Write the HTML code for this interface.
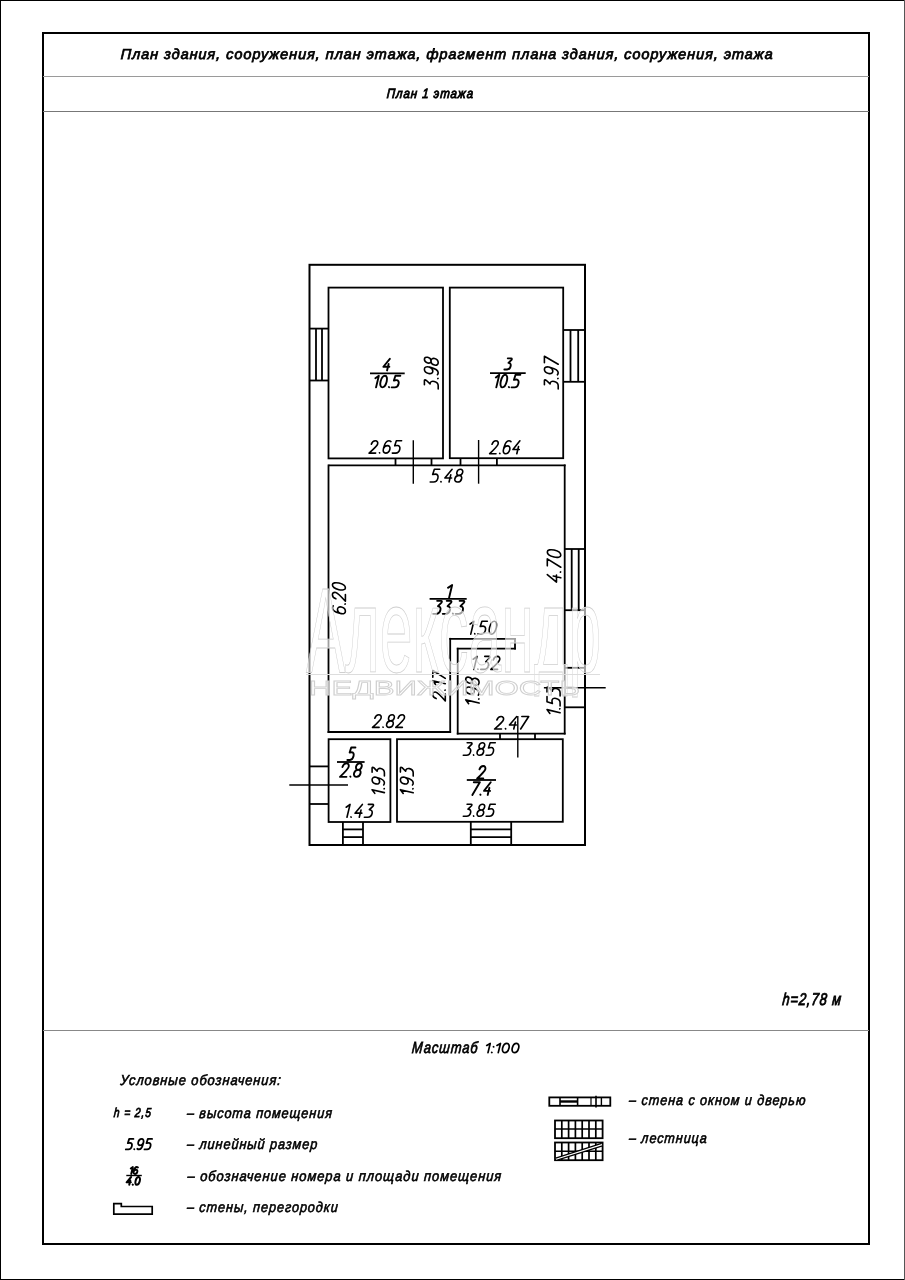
<!DOCTYPE html>
<html><head><meta charset="utf-8"><style>
html,body{margin:0;padding:0;background:#fff;width:905px;height:1280px;overflow:hidden;}
svg{display:block;font-family:"Liberation Sans", sans-serif;will-change:transform;}
</style></head><body>
<svg width="905" height="1280" viewBox="0 0 905 1280">
<rect x="0" y="0" width="905" height="1280" fill="#fff"/>
<rect x="0.5" y="0.5" width="904" height="1279" fill="none" stroke="#000" stroke-width="1"/>
<line x1="904.5" y1="0" x2="904.5" y2="1280" stroke="#555" stroke-width="1"/>
<rect x="43" y="33" width="826" height="1211" fill="none" stroke="#000" stroke-width="2"/>
<line x1="43" y1="76.5" x2="869" y2="76.5" stroke="#9a9a9a" stroke-width="1"/>
<line x1="43" y1="111.5" x2="869" y2="111.5" stroke="#777" stroke-width="1"/>
<line x1="43" y1="1030.5" x2="869" y2="1030.5" stroke="#888" stroke-width="1"/>
<rect x="309.5" y="264.8" width="275.5" height="580.2" fill="none" stroke="#000" stroke-width="2.0"/>
<rect x="328.5" y="287.6" width="114.5" height="170.8" fill="none" stroke="#000" stroke-width="1.8"/>
<rect x="449.8" y="287.6" width="113.4" height="170.6" fill="none" stroke="#000" stroke-width="1.8"/>
<line x1="328.5" y1="465.3" x2="565.6" y2="465.3" stroke="#000" stroke-width="1.8"/>
<line x1="328.5" y1="464.4" x2="328.5" y2="732.9" stroke="#000" stroke-width="1.8"/>
<line x1="564.7" y1="464.4" x2="564.7" y2="734.5" stroke="#000" stroke-width="1.8"/>
<line x1="327.6" y1="732.0" x2="451.1" y2="732.0" stroke="#000" stroke-width="1.8"/>
<line x1="450.2" y1="637.9" x2="450.2" y2="732.9" stroke="#000" stroke-width="1.8"/>
<line x1="449.3" y1="638.8" x2="515.9" y2="638.8" stroke="#000" stroke-width="1.8"/>
<line x1="515.0" y1="637.9" x2="515.0" y2="649.6" stroke="#000" stroke-width="1.8"/>
<line x1="456.8" y1="648.7" x2="515.9" y2="648.7" stroke="#000" stroke-width="1.8"/>
<line x1="457.7" y1="647.8" x2="457.7" y2="734.5" stroke="#000" stroke-width="1.8"/>
<line x1="456.8" y1="733.6" x2="565.6" y2="733.6" stroke="#000" stroke-width="1.8"/>
<rect x="328.6" y="739.2" width="61.8" height="82.8" fill="none" stroke="#000" stroke-width="1.8"/>
<rect x="397.0" y="739.2" width="165.8" height="82.6" fill="none" stroke="#000" stroke-width="1.8"/>
<line x1="309.5" y1="328.6" x2="328.5" y2="328.6" stroke="#000" stroke-width="1.8"/>
<line x1="309.5" y1="380.5" x2="328.5" y2="380.5" stroke="#000" stroke-width="1.8"/>
<line x1="316.0" y1="328.6" x2="316.0" y2="380.5" stroke="#000" stroke-width="1.8"/>
<line x1="322.0" y1="328.6" x2="322.0" y2="380.5" stroke="#000" stroke-width="1.8"/>
<line x1="563.2" y1="330.0" x2="585.0" y2="330.0" stroke="#000" stroke-width="1.8"/>
<line x1="563.2" y1="381.8" x2="585.0" y2="381.8" stroke="#000" stroke-width="1.8"/>
<line x1="570.5" y1="330.0" x2="570.5" y2="381.8" stroke="#000" stroke-width="1.8"/>
<line x1="578.2" y1="330.0" x2="578.2" y2="381.8" stroke="#000" stroke-width="1.8"/>
<line x1="564.7" y1="549.0" x2="585.0" y2="549.0" stroke="#000" stroke-width="1.8"/>
<line x1="564.7" y1="610.2" x2="585.0" y2="610.2" stroke="#000" stroke-width="1.8"/>
<line x1="571.7" y1="549.0" x2="571.7" y2="610.2" stroke="#000" stroke-width="1.8"/>
<line x1="578.7" y1="549.0" x2="578.7" y2="610.2" stroke="#000" stroke-width="1.8"/>
<line x1="564.7" y1="667.8" x2="585" y2="667.8" stroke="#000" stroke-width="1.8"/>
<line x1="564.7" y1="707.3" x2="585" y2="707.3" stroke="#000" stroke-width="1.8"/>
<line x1="543.9" y1="687.7" x2="605.7" y2="687.7" stroke="#000" stroke-width="1.6"/>
<line x1="309.5" y1="766.4" x2="328.6" y2="766.4" stroke="#000" stroke-width="1.8"/>
<line x1="309.5" y1="804.0" x2="328.6" y2="804.0" stroke="#000" stroke-width="1.8"/>
<line x1="289.3" y1="785.0" x2="348.0" y2="785.0" stroke="#000" stroke-width="1.6"/>
<line x1="395.5" y1="458.4" x2="395.5" y2="465.3" stroke="#000" stroke-width="1.8"/>
<line x1="431.5" y1="458.4" x2="431.5" y2="465.3" stroke="#000" stroke-width="1.8"/>
<line x1="460.5" y1="458.4" x2="460.5" y2="465.3" stroke="#000" stroke-width="1.8"/>
<line x1="496.9" y1="458.4" x2="496.9" y2="465.3" stroke="#000" stroke-width="1.8"/>
<line x1="500.0" y1="733.6" x2="500.0" y2="739.2" stroke="#000" stroke-width="1.8"/>
<line x1="535.0" y1="733.6" x2="535.0" y2="739.2" stroke="#000" stroke-width="1.8"/>
<line x1="413.3" y1="440.3" x2="413.3" y2="483.7" stroke="#000" stroke-width="1.4"/>
<line x1="478.6" y1="440.0" x2="478.6" y2="483.7" stroke="#000" stroke-width="1.4"/>
<line x1="517.8" y1="716.0" x2="517.8" y2="757.4" stroke="#000" stroke-width="1.4"/>
<line x1="342.9" y1="822.0" x2="342.9" y2="845" stroke="#000" stroke-width="1.8"/>
<line x1="363.0" y1="822.0" x2="363.0" y2="845" stroke="#000" stroke-width="1.8"/>
<line x1="342.9" y1="829.4" x2="363.0" y2="829.4" stroke="#000" stroke-width="1.8"/>
<line x1="342.9" y1="837.1" x2="363.0" y2="837.1" stroke="#000" stroke-width="1.8"/>
<line x1="470.8" y1="821.8" x2="470.8" y2="845" stroke="#000" stroke-width="1.8"/>
<line x1="511.2" y1="821.8" x2="511.2" y2="845" stroke="#000" stroke-width="1.8"/>
<line x1="470.8" y1="829.4" x2="511.2" y2="829.4" stroke="#000" stroke-width="1.8"/>
<line x1="470.8" y1="837.1" x2="511.2" y2="837.1" stroke="#000" stroke-width="1.8"/>
<line x1="370.0" y1="373.3" x2="404.7" y2="373.3" stroke="#000" stroke-width="1.8"/>
<line x1="490.0" y1="373.1" x2="525.7" y2="373.1" stroke="#000" stroke-width="1.8"/>
<line x1="429.6" y1="598.9" x2="466.7" y2="598.9" stroke="#000" stroke-width="1.8"/>
<line x1="337.0" y1="762.0" x2="364.6" y2="762.0" stroke="#000" stroke-width="1.8"/>
<line x1="466.8" y1="780.0" x2="496.0" y2="780.0" stroke="#000" stroke-width="1.8"/>
<line x1="126.3" y1="1175.5" x2="141.8" y2="1175.5" stroke="#000" stroke-width="1.4"/>
<path d="M113.8 1203.6 H121.3 V1206.5 H152.2 V1214.2 H113.8 Z" fill="none" stroke="#000" stroke-width="1.7"/>
<rect x="549.3" y="1097.4" width="61.0" height="8.4" fill="none" stroke="#000" stroke-width="1.8"/>
<line x1="560.0" y1="1097.4" x2="560.0" y2="1105.8" stroke="#000" stroke-width="1.6"/>
<line x1="577.6" y1="1097.4" x2="577.6" y2="1105.8" stroke="#000" stroke-width="1.6"/>
<line x1="560.0" y1="1101.5" x2="577.6" y2="1101.5" stroke="#000" stroke-width="2.4"/>
<line x1="591.0" y1="1097.4" x2="591.0" y2="1105.8" stroke="#000" stroke-width="1.2"/>
<line x1="596.0" y1="1095.7" x2="596.0" y2="1107.4" stroke="#000" stroke-width="1.6"/>
<line x1="601.4" y1="1097.4" x2="601.4" y2="1105.8" stroke="#000" stroke-width="1.4"/>
<rect x="555.0" y="1120.5" width="47.6" height="17.7" fill="none" stroke="#000" stroke-width="1.8"/>
<line x1="555.0" y1="1129.0" x2="602.6" y2="1129.0" stroke="#000" stroke-width="1.6"/>
<line x1="561.8" y1="1120.5" x2="561.8" y2="1138.2" stroke="#000" stroke-width="1.7"/>
<line x1="568.6" y1="1120.5" x2="568.6" y2="1138.2" stroke="#000" stroke-width="1.7"/>
<line x1="575.4" y1="1120.5" x2="575.4" y2="1138.2" stroke="#000" stroke-width="1.7"/>
<line x1="582.2" y1="1120.5" x2="582.2" y2="1138.2" stroke="#000" stroke-width="1.7"/>
<line x1="589.0" y1="1120.5" x2="589.0" y2="1138.2" stroke="#000" stroke-width="1.7"/>
<line x1="595.8" y1="1120.5" x2="595.8" y2="1138.2" stroke="#000" stroke-width="1.7"/>
<rect x="555.0" y="1142.5" width="47.6" height="17.7" fill="none" stroke="#000" stroke-width="1.8"/>
<line x1="555.0" y1="1151.2" x2="602.6" y2="1151.2" stroke="#000" stroke-width="1.6"/>
<line x1="561.8" y1="1142.5" x2="561.8" y2="1160.2" stroke="#000" stroke-width="1.7"/>
<line x1="568.6" y1="1142.5" x2="568.6" y2="1160.2" stroke="#000" stroke-width="1.7"/>
<line x1="575.4" y1="1142.5" x2="575.4" y2="1160.2" stroke="#000" stroke-width="1.7"/>
<line x1="582.2" y1="1142.5" x2="582.2" y2="1160.2" stroke="#000" stroke-width="1.7"/>
<line x1="589.0" y1="1142.5" x2="589.0" y2="1160.2" stroke="#000" stroke-width="1.7"/>
<line x1="595.8" y1="1142.5" x2="595.8" y2="1160.2" stroke="#000" stroke-width="1.7"/>
<line x1="556" y1="1159.2" x2="602" y2="1144.6" stroke="#000" stroke-width="3.8"/>
<line x1="556" y1="1159.2" x2="602" y2="1144.6" stroke="#fff" stroke-width="1.2"/>
<g font-family="Liberation Sans, sans-serif" fill="#000" stroke="#000" stroke-width="0.6"><text transform="translate(120.5 59.3) skewX(-2.10) scale(1.0000 1)" x="0" y="0" font-size="14.5" font-weight="normal" font-style="italic" textLength="652.1" lengthAdjust="spacing" stroke="#000" stroke-width="0.75">План здания, сооружения, план этажа, фрагмент плана здания, сооружения, этажа</text>
<text transform="translate(386.6 97.9) skewX(-3.88) scale(0.8537 1)" x="0" y="0" font-size="13.5" font-weight="normal" font-style="italic" textLength="100.97" lengthAdjust="spacing" stroke="#000" stroke-width="0.9">План 1 этажа</text>
<text transform="translate(781.9 1005.2) skewX(-5.00) scale(0.7611 1)" x="0" y="0" font-size="17" font-weight="normal" font-style="italic" textLength="77.12" lengthAdjust="spacing" stroke="#000" stroke-width="0.9">h=2,78 м</text>
<text transform="translate(411.6 1053.3) skewX(-4.45) scale(0.8069 1)" x="0" y="0" font-size="16" font-weight="normal" font-style="italic" textLength="81.42" lengthAdjust="spacing" stroke="#000" stroke-width="0.75">Масштаб</text>
<text transform="translate(119.9 1084.9) skewX(-3.42) scale(0.8915 1)" x="0" y="0" font-size="14.5" font-weight="normal" font-style="italic" textLength="180.26" lengthAdjust="spacing">Условные обозначения:</text>
<text transform="translate(113.6 1117.0) skewX(-4.65) scale(0.7902 1)" x="0" y="0" font-size="13" font-weight="normal" font-style="italic" textLength="46.95" lengthAdjust="spacing" stroke="#000" stroke-width="0.8">h = 2,5</text>
<text transform="translate(186.7 1118.2) skewX(-3.60) scale(0.8770 1)" x="0" y="0" font-size="14.5" font-weight="normal" font-style="italic" textLength="165.34" lengthAdjust="spacing">– высота помещения</text>
<text transform="translate(186.7 1148.8) skewX(-3.56) scale(0.8805 1)" x="0" y="0" font-size="14.5" font-weight="normal" font-style="italic" textLength="147.98" lengthAdjust="spacing">– линейный размер</text>
<text transform="translate(187.3 1181.2) skewX(-3.38) scale(0.8954 1)" x="0" y="0" font-size="14.5" font-weight="normal" font-style="italic" textLength="350.36" lengthAdjust="spacing">– обозначение номера и площади помещения</text>
<text transform="translate(186.7 1211.8) skewX(-3.60) scale(0.8769 1)" x="0" y="0" font-size="14.5" font-weight="normal" font-style="italic" textLength="171.96" lengthAdjust="spacing">– стены, перегородки</text>
<text transform="translate(628.8 1104.9) skewX(-3.61) scale(0.8759 1)" x="0" y="0" font-size="14.5" font-weight="normal" font-style="italic" textLength="201.4" lengthAdjust="spacing">– стена с окном и дверью</text>
<text transform="translate(628.8 1142.9) skewX(-3.68) scale(0.8706 1)" x="0" y="0" font-size="14.5" font-weight="normal" font-style="italic" textLength="89.36" lengthAdjust="spacing">– лестница</text></g>
<g><path d="M3.77,-10.00 L0.00,-3.20 L4.92,-3.20 M3.77,-5.60 L3.77,0.00" transform="translate(382.40 370.45) translate(0.059 0) skewX(-13.5) scale(1.2212 1.1600)" fill="none" stroke="#000" stroke-width="1.9" stroke-linecap="round" stroke-linejoin="round" vector-effect="non-scaling-stroke"/>
<path d="M0.33,-7.80 L2.62,-10.00 L2.62,0.00 M7.58,-10.00 C9.06,-10.00 10.04,-7.60 10.04,-5.00 C10.04,-2.40 9.06,0.00 7.58,0.00 C6.11,0.00 5.12,-2.40 5.12,-5.00 C5.12,-7.60 6.11,-10.00 7.58,-10.00 Z M12.84,-0.30 L13.04,-0.10 M19.85,-10.00 L15.91,-10.00 L15.59,-5.90 C16.24,-6.10 16.90,-6.20 17.55,-6.20 C19.03,-6.20 20.01,-4.90 20.01,-3.10 C20.01,-1.20 19.03,0.00 17.55,0.00 L15.09,0.00" transform="translate(374.40 387.35) translate(-1.632 0) skewX(-13.5) scale(1.2492 1.1600)" fill="none" stroke="#000" stroke-width="1.9" stroke-linecap="round" stroke-linejoin="round" vector-effect="non-scaling-stroke"/>
<path d="M0.66,-10.00 L3.77,-10.00 C4.43,-10.00 4.67,-9.30 4.35,-8.70 L2.30,-5.90 C4.02,-5.90 4.92,-4.50 4.92,-2.90 C4.92,-1.10 3.94,0.00 2.46,0.00 L0.00,0.00 M7.72,-0.30 L7.92,-0.10 M10.54,-0.60 C11.04,-0.20 11.61,0.00 12.27,0.00 C13.91,0.00 14.89,-2.40 14.89,-5.60 L14.89,-6.80 C14.89,-8.70 13.82,-10.00 12.43,-10.00 C11.04,-10.00 9.97,-8.70 9.97,-6.90 C9.97,-5.10 11.04,-3.90 12.43,-3.90 C13.66,-3.90 14.64,-4.80 14.89,-6.20 M19.85,-5.20 C18.62,-5.20 17.72,-6.20 17.72,-7.60 C17.72,-9.00 18.62,-10.00 19.85,-10.00 C21.08,-10.00 21.98,-9.00 21.98,-7.60 C21.98,-6.20 21.08,-5.20 19.85,-5.20 C18.46,-5.20 17.39,-4.10 17.39,-2.60 C17.39,-1.10 18.46,0.00 19.85,0.00 C21.24,0.00 22.31,-1.10 22.31,-2.60 C22.31,-4.10 21.24,-5.20 19.85,-5.20 Z" transform="translate(438.20 389.70) rotate(-90) translate(0.800 0) skewX(-13.5) scale(1.3219 1.3800)" fill="none" stroke="#000" stroke-width="1.6" stroke-linecap="round" stroke-linejoin="round" vector-effect="non-scaling-stroke"/>
<path d="M0.08,-7.30 C0.25,-9.00 1.23,-10.00 2.46,-10.00 C3.85,-10.00 4.76,-8.90 4.76,-7.40 C4.76,-6.00 4.10,-5.00 0.00,0.00 L4.92,0.00 M7.72,-0.30 L7.92,-0.10 M14.32,-9.40 C13.82,-9.80 13.25,-10.00 12.59,-10.00 C10.95,-10.00 9.97,-7.60 9.97,-4.40 L9.97,-3.20 C9.97,-1.30 11.04,0.00 12.43,0.00 C13.82,0.00 14.89,-1.30 14.89,-3.10 C14.89,-4.90 13.82,-6.10 12.43,-6.10 C11.20,-6.10 10.22,-5.20 9.97,-3.80 M22.15,-10.00 L18.21,-10.00 L17.88,-5.90 C18.54,-6.10 19.19,-6.20 19.85,-6.20 C21.33,-6.20 22.31,-4.90 22.31,-3.10 C22.31,-1.20 21.33,0.00 19.85,0.00 L17.39,0.00" transform="translate(368.30 453.10) translate(0.800 0) skewX(-13.5) scale(1.3342 1.2300)" fill="none" stroke="#000" stroke-width="1.6" stroke-linecap="round" stroke-linejoin="round" vector-effect="non-scaling-stroke"/>
<path d="M0.66,-10.00 L3.77,-10.00 C4.43,-10.00 4.67,-9.30 4.35,-8.70 L2.30,-5.90 C4.02,-5.90 4.92,-4.50 4.92,-2.90 C4.92,-1.10 3.94,0.00 2.46,0.00 L0.00,0.00" transform="translate(503.40 369.45) translate(0.950 0) skewX(-13.5) scale(1.1151 1.1100)" fill="none" stroke="#000" stroke-width="1.9" stroke-linecap="round" stroke-linejoin="round" vector-effect="non-scaling-stroke"/>
<path d="M0.33,-7.80 L2.62,-10.00 L2.62,0.00 M7.58,-10.00 C9.06,-10.00 10.04,-7.60 10.04,-5.00 C10.04,-2.40 9.06,0.00 7.58,0.00 C6.11,0.00 5.12,-2.40 5.12,-5.00 C5.12,-7.60 6.11,-10.00 7.58,-10.00 Z M12.84,-0.30 L13.04,-0.10 M19.85,-10.00 L15.91,-10.00 L15.59,-5.90 C16.24,-6.10 16.90,-6.20 17.55,-6.20 C19.03,-6.20 20.01,-4.90 20.01,-3.10 C20.01,-1.20 19.03,0.00 17.55,0.00 L15.09,0.00" transform="translate(494.90 387.35) translate(-1.810 0) skewX(-13.5) scale(1.2209 1.2600)" fill="none" stroke="#000" stroke-width="1.9" stroke-linecap="round" stroke-linejoin="round" vector-effect="non-scaling-stroke"/>
<path d="M0.66,-10.00 L3.77,-10.00 C4.43,-10.00 4.67,-9.30 4.35,-8.70 L2.30,-5.90 C4.02,-5.90 4.92,-4.50 4.92,-2.90 C4.92,-1.10 3.94,0.00 2.46,0.00 L0.00,0.00 M7.72,-0.30 L7.92,-0.10 M10.54,-0.60 C11.04,-0.20 11.61,0.00 12.27,0.00 C13.91,0.00 14.89,-2.40 14.89,-5.60 L14.89,-6.80 C14.89,-8.70 13.82,-10.00 12.43,-10.00 C11.04,-10.00 9.97,-8.70 9.97,-6.90 C9.97,-5.10 11.04,-3.90 12.43,-3.90 C13.66,-3.90 14.64,-4.80 14.89,-6.20 M17.39,-10.00 L22.31,-10.00 L18.70,0.00" transform="translate(558.20 389.70) rotate(-90) translate(0.800 0) skewX(-13.5) scale(1.3172 1.3800)" fill="none" stroke="#000" stroke-width="1.6" stroke-linecap="round" stroke-linejoin="round" vector-effect="non-scaling-stroke"/>
<path d="M0.08,-7.30 C0.25,-9.00 1.23,-10.00 2.46,-10.00 C3.85,-10.00 4.76,-8.90 4.76,-7.40 C4.76,-6.00 4.10,-5.00 0.00,0.00 L4.92,0.00 M7.72,-0.30 L7.92,-0.10 M14.32,-9.40 C13.82,-9.80 13.25,-10.00 12.59,-10.00 C10.95,-10.00 9.97,-7.60 9.97,-4.40 L9.97,-3.20 C9.97,-1.30 11.04,0.00 12.43,0.00 C13.82,0.00 14.89,-1.30 14.89,-3.10 C14.89,-4.90 13.82,-6.10 12.43,-6.10 C11.20,-6.10 10.22,-5.20 9.97,-3.80 M21.16,-10.00 L17.39,-3.20 L22.31,-3.20 M21.16,-5.60 L21.16,0.00" transform="translate(488.90 453.70) translate(0.800 0) skewX(-13.5) scale(1.2807 1.2900)" fill="none" stroke="#000" stroke-width="1.6" stroke-linecap="round" stroke-linejoin="round" vector-effect="non-scaling-stroke"/>
<path d="M4.76,-10.00 L0.82,-10.00 L0.49,-5.90 C1.15,-6.10 1.80,-6.20 2.46,-6.20 C3.94,-6.20 4.92,-4.90 4.92,-3.10 C4.92,-1.20 3.94,0.00 2.46,0.00 L0.00,0.00 M7.72,-0.30 L7.92,-0.10 M13.74,-10.00 L9.97,-3.20 L14.89,-3.20 M13.74,-5.60 L13.74,0.00 M19.85,-5.20 C18.62,-5.20 17.72,-6.20 17.72,-7.60 C17.72,-9.00 18.62,-10.00 19.85,-10.00 C21.08,-10.00 21.98,-9.00 21.98,-7.60 C21.98,-6.20 21.08,-5.20 19.85,-5.20 C18.46,-5.20 17.39,-4.10 17.39,-2.60 C17.39,-1.10 18.46,0.00 19.85,0.00 C21.24,0.00 22.31,-1.10 22.31,-2.60 C22.31,-4.10 21.24,-5.20 19.85,-5.20 Z" transform="translate(429.40 482.00) translate(0.800 0) skewX(-13.5) scale(1.3729 1.2700)" fill="none" stroke="#000" stroke-width="1.6" stroke-linecap="round" stroke-linejoin="round" vector-effect="non-scaling-stroke"/>
<path d="M0.33,-7.80 L2.62,-10.00 L2.62,0.00" transform="translate(447.00 597.75) translate(-1.932 0) skewX(-13.5) scale(1.5371 1.2700)" fill="none" stroke="#000" stroke-width="1.9" stroke-linecap="round" stroke-linejoin="round" vector-effect="non-scaling-stroke"/>
<path d="M0.66,-10.00 L3.77,-10.00 C4.43,-10.00 4.67,-9.30 4.35,-8.70 L2.30,-5.90 C4.02,-5.90 4.92,-4.50 4.92,-2.90 C4.92,-1.10 3.94,0.00 2.46,0.00 L0.00,0.00 M8.08,-10.00 L11.19,-10.00 C11.85,-10.00 12.09,-9.30 11.77,-8.70 L9.72,-5.90 C11.44,-5.90 12.34,-4.50 12.34,-2.90 C12.34,-1.10 11.36,0.00 9.88,0.00 L7.42,0.00 M15.14,-0.30 L15.34,-0.10 M18.05,-10.00 L21.16,-10.00 C21.82,-10.00 22.06,-9.30 21.74,-8.70 L19.69,-5.90 C21.41,-5.90 22.31,-4.50 22.31,-2.90 C22.31,-1.10 21.33,0.00 19.85,0.00 L17.39,0.00" transform="translate(432.20 613.85) translate(0.950 0) skewX(-13.5) scale(1.2925 1.3000)" fill="none" stroke="#000" stroke-width="1.9" stroke-linecap="round" stroke-linejoin="round" vector-effect="non-scaling-stroke"/>
<path d="M4.35,-9.40 C3.85,-9.80 3.28,-10.00 2.62,-10.00 C0.98,-10.00 0.00,-7.60 0.00,-4.40 L0.00,-3.20 C0.00,-1.30 1.07,0.00 2.46,0.00 C3.85,0.00 4.92,-1.30 4.92,-3.10 C4.92,-4.90 3.85,-6.10 2.46,-6.10 C1.23,-6.10 0.25,-5.20 0.00,-3.80 M7.72,-0.30 L7.92,-0.10 M10.05,-7.30 C10.22,-9.00 11.20,-10.00 12.43,-10.00 C13.82,-10.00 14.73,-8.90 14.73,-7.40 C14.73,-6.00 14.07,-5.00 9.97,0.00 L14.89,0.00 M19.85,-10.00 C21.33,-10.00 22.31,-7.60 22.31,-5.00 C22.31,-2.40 21.33,0.00 19.85,0.00 C18.37,0.00 17.39,-2.40 17.39,-5.00 C17.39,-7.60 18.37,-10.00 19.85,-10.00 Z" transform="translate(345.40 614.60) rotate(-90) translate(-0.034 0) skewX(-13.5) scale(1.3458 1.3000)" fill="none" stroke="#000" stroke-width="1.6" stroke-linecap="round" stroke-linejoin="round" vector-effect="non-scaling-stroke"/>
<path d="M3.77,-10.00 L0.00,-3.20 L4.92,-3.20 M3.77,-5.60 L3.77,0.00 M7.72,-0.30 L7.92,-0.10 M9.97,-10.00 L14.89,-10.00 L11.28,0.00 M19.85,-10.00 C21.33,-10.00 22.31,-7.60 22.31,-5.00 C22.31,-2.40 21.33,0.00 19.85,0.00 C18.37,0.00 17.39,-2.40 17.39,-5.00 C17.39,-7.60 18.37,-10.00 19.85,-10.00 Z" transform="translate(560.80 582.90) rotate(-90) translate(-0.237 0) skewX(-13.5) scale(1.4100 1.3500)" fill="none" stroke="#000" stroke-width="1.6" stroke-linecap="round" stroke-linejoin="round" vector-effect="non-scaling-stroke"/>
<path d="M0.08,-7.30 C0.25,-9.00 1.23,-10.00 2.46,-10.00 C3.85,-10.00 4.76,-8.90 4.76,-7.40 C4.76,-6.00 4.10,-5.00 0.00,0.00 L4.92,0.00 M7.72,-0.30 L7.92,-0.10 M12.43,-5.20 C11.20,-5.20 10.30,-6.20 10.30,-7.60 C10.30,-9.00 11.20,-10.00 12.43,-10.00 C13.66,-10.00 14.56,-9.00 14.56,-7.60 C14.56,-6.20 13.66,-5.20 12.43,-5.20 C11.04,-5.20 9.97,-4.10 9.97,-2.60 C9.97,-1.10 11.04,0.00 12.43,0.00 C13.82,0.00 14.89,-1.10 14.89,-2.60 C14.89,-4.10 13.82,-5.20 12.43,-5.20 Z M17.47,-7.30 C17.64,-9.00 18.62,-10.00 19.85,-10.00 C21.24,-10.00 22.15,-8.90 22.15,-7.40 C22.15,-6.00 21.49,-5.00 17.39,0.00 L22.31,0.00" transform="translate(371.70 727.40) translate(0.800 0) skewX(-13.5) scale(1.3386 1.2600)" fill="none" stroke="#000" stroke-width="1.6" stroke-linecap="round" stroke-linejoin="round" vector-effect="non-scaling-stroke"/>
<path d="M0.08,-7.30 C0.25,-9.00 1.23,-10.00 2.46,-10.00 C3.85,-10.00 4.76,-8.90 4.76,-7.40 C4.76,-6.00 4.10,-5.00 0.00,0.00 L4.92,0.00 M7.72,-0.30 L7.92,-0.10 M10.30,-7.80 L12.59,-10.00 L12.59,0.00 M15.09,-10.00 L20.01,-10.00 L16.41,0.00" transform="translate(445.30 701.70) rotate(-90) translate(0.800 0) skewX(-13.5) scale(1.3690 1.2500)" fill="none" stroke="#000" stroke-width="1.6" stroke-linecap="round" stroke-linejoin="round" vector-effect="non-scaling-stroke"/>
<path d="M0.33,-7.80 L2.62,-10.00 L2.62,0.00 M5.42,-0.30 L5.62,-0.10 M12.43,-10.00 L8.49,-10.00 L8.17,-5.90 C8.82,-6.10 9.48,-6.20 10.13,-6.20 C11.61,-6.20 12.59,-4.90 12.59,-3.10 C12.59,-1.20 11.61,0.00 10.13,0.00 L7.67,0.00 M17.55,-10.00 C19.03,-10.00 20.01,-7.60 20.01,-5.00 C20.01,-2.40 19.03,0.00 17.55,0.00 C16.08,0.00 15.09,-2.40 15.09,-5.00 C15.09,-7.60 16.08,-10.00 17.55,-10.00 Z" transform="translate(469.20 634.10) translate(-2.049 0) skewX(-13.5) scale(1.3780 1.2800)" fill="none" stroke="#000" stroke-width="1.6" stroke-linecap="round" stroke-linejoin="round" vector-effect="non-scaling-stroke"/>
<path d="M0.33,-7.80 L2.62,-10.00 L2.62,0.00 M5.42,-0.30 L5.62,-0.10 M8.33,-10.00 L11.45,-10.00 C12.10,-10.00 12.35,-9.30 12.02,-8.70 L9.97,-5.90 C11.69,-5.90 12.59,-4.50 12.59,-2.90 C12.59,-1.10 11.61,0.00 10.13,0.00 L7.67,0.00 M15.18,-7.30 C15.34,-9.00 16.32,-10.00 17.55,-10.00 C18.95,-10.00 19.85,-8.90 19.85,-7.40 C19.85,-6.00 19.19,-5.00 15.09,0.00 L20.01,0.00" transform="translate(472.40 669.40) translate(-2.081 0) skewX(-13.5) scale(1.3627 1.3000)" fill="none" stroke="#000" stroke-width="1.6" stroke-linecap="round" stroke-linejoin="round" vector-effect="non-scaling-stroke"/>
<path d="M0.33,-7.80 L2.62,-10.00 L2.62,0.00 M5.42,-0.30 L5.62,-0.10 M8.25,-0.60 C8.74,-0.20 9.31,0.00 9.97,0.00 C11.61,0.00 12.59,-2.40 12.59,-5.60 L12.59,-6.80 C12.59,-8.70 11.53,-10.00 10.13,-10.00 C8.74,-10.00 7.67,-8.70 7.67,-6.90 C7.67,-5.10 8.74,-3.90 10.13,-3.90 C11.36,-3.90 12.35,-4.80 12.59,-6.20 M17.55,-5.20 C16.32,-5.20 15.42,-6.20 15.42,-7.60 C15.42,-9.00 16.32,-10.00 17.55,-10.00 C18.78,-10.00 19.69,-9.00 19.69,-7.60 C19.69,-6.20 18.78,-5.20 17.55,-5.20 C16.16,-5.20 15.09,-4.10 15.09,-2.60 C15.09,-1.10 16.16,0.00 17.55,0.00 C18.95,0.00 20.01,-1.10 20.01,-2.60 C20.01,-4.10 18.95,-5.20 17.55,-5.20 Z" transform="translate(479.10 704.50) rotate(-90) translate(-2.159 0) skewX(-13.5) scale(1.3715 1.3400)" fill="none" stroke="#000" stroke-width="1.6" stroke-linecap="round" stroke-linejoin="round" vector-effect="non-scaling-stroke"/>
<path d="M0.08,-7.30 C0.25,-9.00 1.23,-10.00 2.46,-10.00 C3.85,-10.00 4.76,-8.90 4.76,-7.40 C4.76,-6.00 4.10,-5.00 0.00,0.00 L4.92,0.00 M7.72,-0.30 L7.92,-0.10 M13.74,-10.00 L9.97,-3.20 L14.89,-3.20 M13.74,-5.60 L13.74,0.00 M17.39,-10.00 L22.31,-10.00 L18.70,0.00" transform="translate(493.80 729.00) translate(0.800 0) skewX(-13.5) scale(1.3939 1.2500)" fill="none" stroke="#000" stroke-width="1.6" stroke-linecap="round" stroke-linejoin="round" vector-effect="non-scaling-stroke"/>
<path d="M0.33,-7.80 L2.62,-10.00 L2.62,0.00 M5.42,-0.30 L5.62,-0.10 M12.43,-10.00 L8.49,-10.00 L8.17,-5.90 C8.82,-6.10 9.48,-6.20 10.13,-6.20 C11.61,-6.20 12.59,-4.90 12.59,-3.10 C12.59,-1.20 11.61,0.00 10.13,0.00 L7.67,0.00 M15.75,-10.00 L18.87,-10.00 C19.52,-10.00 19.77,-9.30 19.44,-8.70 L17.39,-5.90 C19.11,-5.90 20.01,-4.50 20.01,-2.90 C20.01,-1.10 19.03,0.00 17.55,0.00 L15.09,0.00" transform="translate(560.10 714.20) rotate(-90) translate(-2.093 0) skewX(-13.5) scale(1.3404 1.3100)" fill="none" stroke="#000" stroke-width="1.6" stroke-linecap="round" stroke-linejoin="round" vector-effect="non-scaling-stroke"/>
<path d="M4.76,-10.00 L0.82,-10.00 L0.49,-5.90 C1.15,-6.10 1.80,-6.20 2.46,-6.20 C3.94,-6.20 4.92,-4.90 4.92,-3.10 C4.92,-1.20 3.94,0.00 2.46,0.00 L0.00,0.00" transform="translate(346.40 759.95) translate(0.950 0) skewX(-13.5) scale(1.0721 1.2500)" fill="none" stroke="#000" stroke-width="1.9" stroke-linecap="round" stroke-linejoin="round" vector-effect="non-scaling-stroke"/>
<path d="M0.08,-7.30 C0.25,-9.00 1.23,-10.00 2.46,-10.00 C3.85,-10.00 4.76,-8.90 4.76,-7.40 C4.76,-6.00 4.10,-5.00 0.00,0.00 L4.92,0.00 M7.72,-0.30 L7.92,-0.10 M12.43,-5.20 C11.20,-5.20 10.30,-6.20 10.30,-7.60 C10.30,-9.00 11.20,-10.00 12.43,-10.00 C13.66,-10.00 14.56,-9.00 14.56,-7.60 C14.56,-6.20 13.66,-5.20 12.43,-5.20 C11.04,-5.20 9.97,-4.10 9.97,-2.60 C9.97,-1.10 11.04,0.00 12.43,0.00 C13.82,0.00 14.89,-1.10 14.89,-2.60 C14.89,-4.10 13.82,-5.20 12.43,-5.20 Z" transform="translate(339.00 776.85) translate(0.950 0) skewX(-13.5) scale(1.3266 1.3500)" fill="none" stroke="#000" stroke-width="1.9" stroke-linecap="round" stroke-linejoin="round" vector-effect="non-scaling-stroke"/>
<path d="M0.33,-7.80 L2.62,-10.00 L2.62,0.00 M5.42,-0.30 L5.62,-0.10 M8.25,-0.60 C8.74,-0.20 9.31,0.00 9.97,0.00 C11.61,0.00 12.59,-2.40 12.59,-5.60 L12.59,-6.80 C12.59,-8.70 11.53,-10.00 10.13,-10.00 C8.74,-10.00 7.67,-8.70 7.67,-6.90 C7.67,-5.10 8.74,-3.90 10.13,-3.90 C11.36,-3.90 12.35,-4.80 12.59,-6.20 M15.75,-10.00 L18.87,-10.00 C19.52,-10.00 19.77,-9.30 19.44,-8.70 L17.39,-5.90 C19.11,-5.90 20.01,-4.50 20.01,-2.90 C20.01,-1.10 19.03,0.00 17.55,0.00 L15.09,0.00" transform="translate(384.40 794.20) rotate(-90) translate(-1.942 0) skewX(-13.5) scale(1.3369 1.2300)" fill="none" stroke="#000" stroke-width="1.6" stroke-linecap="round" stroke-linejoin="round" vector-effect="non-scaling-stroke"/>
<path d="M0.33,-7.80 L2.62,-10.00 L2.62,0.00 M5.42,-0.30 L5.62,-0.10 M11.45,-10.00 L7.67,-3.20 L12.59,-3.20 M11.45,-5.60 L11.45,0.00 M15.75,-10.00 L18.87,-10.00 C19.52,-10.00 19.77,-9.30 19.44,-8.70 L17.39,-5.90 C19.11,-5.90 20.01,-4.50 20.01,-2.90 C20.01,-1.10 19.03,0.00 17.55,0.00 L15.09,0.00" transform="translate(345.40 817.30) translate(-2.073 0) skewX(-13.5) scale(1.3928 1.2900)" fill="none" stroke="#000" stroke-width="1.6" stroke-linecap="round" stroke-linejoin="round" vector-effect="non-scaling-stroke"/>
<path d="M0.33,-7.80 L2.62,-10.00 L2.62,0.00 M5.42,-0.30 L5.62,-0.10 M8.25,-0.60 C8.74,-0.20 9.31,0.00 9.97,0.00 C11.61,0.00 12.59,-2.40 12.59,-5.60 L12.59,-6.80 C12.59,-8.70 11.53,-10.00 10.13,-10.00 C8.74,-10.00 7.67,-8.70 7.67,-6.90 C7.67,-5.10 8.74,-3.90 10.13,-3.90 C11.36,-3.90 12.35,-4.80 12.59,-6.20 M15.75,-10.00 L18.87,-10.00 C19.52,-10.00 19.77,-9.30 19.44,-8.70 L17.39,-5.90 C19.11,-5.90 20.01,-4.50 20.01,-2.90 C20.01,-1.10 19.03,0.00 17.55,0.00 L15.09,0.00" transform="translate(413.20 794.20) rotate(-90) translate(-2.035 0) skewX(-13.5) scale(1.3358 1.2800)" fill="none" stroke="#000" stroke-width="1.6" stroke-linecap="round" stroke-linejoin="round" vector-effect="non-scaling-stroke"/>
<path d="M0.66,-10.00 L3.77,-10.00 C4.43,-10.00 4.67,-9.30 4.35,-8.70 L2.30,-5.90 C4.02,-5.90 4.92,-4.50 4.92,-2.90 C4.92,-1.10 3.94,0.00 2.46,0.00 L0.00,0.00 M7.72,-0.30 L7.92,-0.10 M12.43,-5.20 C11.20,-5.20 10.30,-6.20 10.30,-7.60 C10.30,-9.00 11.20,-10.00 12.43,-10.00 C13.66,-10.00 14.56,-9.00 14.56,-7.60 C14.56,-6.20 13.66,-5.20 12.43,-5.20 C11.04,-5.20 9.97,-4.10 9.97,-2.60 C9.97,-1.10 11.04,0.00 12.43,0.00 C13.82,0.00 14.89,-1.10 14.89,-2.60 C14.89,-4.10 13.82,-5.20 12.43,-5.20 Z M22.15,-10.00 L18.21,-10.00 L17.88,-5.90 C18.54,-6.10 19.19,-6.20 19.85,-6.20 C21.33,-6.20 22.31,-4.90 22.31,-3.10 C22.31,-1.20 21.33,0.00 19.85,0.00 L17.39,0.00" transform="translate(462.50 755.30) translate(0.800 0) skewX(-13.5) scale(1.3094 1.2500)" fill="none" stroke="#000" stroke-width="1.6" stroke-linecap="round" stroke-linejoin="round" vector-effect="non-scaling-stroke"/>
<path d="M0.08,-7.30 C0.25,-9.00 1.23,-10.00 2.46,-10.00 C3.85,-10.00 4.76,-8.90 4.76,-7.40 C4.76,-6.00 4.10,-5.00 0.00,0.00 L4.92,0.00" transform="translate(476.20 778.55) translate(0.950 0) skewX(-13.5) scale(1.2484 1.2600)" fill="none" stroke="#000" stroke-width="1.9" stroke-linecap="round" stroke-linejoin="round" vector-effect="non-scaling-stroke"/>
<path d="M0.00,-10.00 L4.92,-10.00 L1.31,0.00 M7.72,-0.30 L7.92,-0.10 M13.74,-10.00 L9.97,-3.20 L14.89,-3.20 M13.74,-5.60 L13.74,0.00" transform="translate(471.40 794.95) translate(-0.670 0) skewX(-13.5) scale(1.2350 1.2700)" fill="none" stroke="#000" stroke-width="1.9" stroke-linecap="round" stroke-linejoin="round" vector-effect="non-scaling-stroke"/>
<path d="M0.66,-10.00 L3.77,-10.00 C4.43,-10.00 4.67,-9.30 4.35,-8.70 L2.30,-5.90 C4.02,-5.90 4.92,-4.50 4.92,-2.90 C4.92,-1.10 3.94,0.00 2.46,0.00 L0.00,0.00 M7.72,-0.30 L7.92,-0.10 M12.43,-5.20 C11.20,-5.20 10.30,-6.20 10.30,-7.60 C10.30,-9.00 11.20,-10.00 12.43,-10.00 C13.66,-10.00 14.56,-9.00 14.56,-7.60 C14.56,-6.20 13.66,-5.20 12.43,-5.20 C11.04,-5.20 9.97,-4.10 9.97,-2.60 C9.97,-1.10 11.04,0.00 12.43,0.00 C13.82,0.00 14.89,-1.10 14.89,-2.60 C14.89,-4.10 13.82,-5.20 12.43,-5.20 Z M22.15,-10.00 L18.21,-10.00 L17.88,-5.90 C18.54,-6.10 19.19,-6.20 19.85,-6.20 C21.33,-6.20 22.31,-4.90 22.31,-3.10 C22.31,-1.20 21.33,0.00 19.85,0.00 L17.39,0.00" transform="translate(462.50 816.30) translate(0.800 0) skewX(-13.5) scale(1.3138 1.2100)" fill="none" stroke="#000" stroke-width="1.6" stroke-linecap="round" stroke-linejoin="round" vector-effect="non-scaling-stroke"/>
<path d="M4.76,-10.00 L0.82,-10.00 L0.49,-5.90 C1.15,-6.10 1.80,-6.20 2.46,-6.20 C3.94,-6.20 4.92,-4.90 4.92,-3.10 C4.92,-1.20 3.94,0.00 2.46,0.00 L0.00,0.00 M7.72,-0.30 L7.92,-0.10 M10.54,-0.60 C11.04,-0.20 11.61,0.00 12.27,0.00 C13.91,0.00 14.89,-2.40 14.89,-5.60 L14.89,-6.80 C14.89,-8.70 13.82,-10.00 12.43,-10.00 C11.04,-10.00 9.97,-8.70 9.97,-6.90 C9.97,-5.10 11.04,-3.90 12.43,-3.90 C13.66,-3.90 14.64,-4.80 14.89,-6.20 M22.15,-10.00 L18.21,-10.00 L17.88,-5.90 C18.54,-6.10 19.19,-6.20 19.85,-6.20 C21.33,-6.20 22.31,-4.90 22.31,-3.10 C22.31,-1.20 21.33,0.00 19.85,0.00 L17.39,0.00" transform="translate(124.90 1149.40) translate(0.900 0) skewX(-13.5) scale(1.0737 1.0500)" fill="none" stroke="#000" stroke-width="1.8" stroke-linecap="round" stroke-linejoin="round" vector-effect="non-scaling-stroke"/>
<path d="M0.33,-7.80 L2.62,-10.00 L2.62,0.00 M9.47,-9.40 C8.98,-9.80 8.40,-10.00 7.75,-10.00 C6.11,-10.00 5.12,-7.60 5.12,-4.40 L5.12,-3.20 C5.12,-1.30 6.19,0.00 7.58,0.00 C8.98,0.00 10.04,-1.30 10.04,-3.10 C10.04,-4.90 8.98,-6.10 7.58,-6.10 C6.35,-6.10 5.37,-5.20 5.12,-3.80" transform="translate(129.80 1173.95) translate(-0.591 0) skewX(-13.5) scale(0.7586 0.6900)" fill="none" stroke="#000" stroke-width="1.9" stroke-linecap="round" stroke-linejoin="round" vector-effect="non-scaling-stroke"/>
<path d="M3.77,-10.00 L0.00,-3.20 L4.92,-3.20 M3.77,-5.60 L3.77,0.00 M7.72,-0.30 L7.92,-0.10 M12.43,-10.00 C13.91,-10.00 14.89,-7.60 14.89,-5.00 C14.89,-2.40 13.91,0.00 12.43,0.00 C10.95,0.00 9.97,-2.40 9.97,-5.00 C9.97,-7.60 10.95,-10.00 12.43,-10.00 Z" transform="translate(125.60 1184.80) translate(0.401 0) skewX(-13.5) scale(0.8639 0.7800)" fill="none" stroke="#000" stroke-width="2.0" stroke-linecap="round" stroke-linejoin="round" vector-effect="non-scaling-stroke"/>
<path d="M0.33,-7.80 L2.62,-10.00 L2.62,0.00 M5.72,-6.40 L5.92,-6.20 M5.42,-0.30 L5.62,-0.10 M8.20,-7.80 L10.50,-10.00 L10.50,0.00 M15.46,-10.00 C16.93,-10.00 17.92,-7.60 17.92,-5.00 C17.92,-2.40 16.93,0.00 15.46,0.00 C13.98,0.00 13.00,-2.40 13.00,-5.00 C13.00,-7.60 13.98,-10.00 15.46,-10.00 Z M22.88,-10.00 C24.35,-10.00 25.34,-7.60 25.34,-5.00 C25.34,-2.40 24.35,0.00 22.88,0.00 C21.40,0.00 20.42,-2.40 20.42,-5.00 C20.42,-7.60 21.40,-10.00 22.88,-10.00 Z" transform="translate(485.90 1052.65) translate(-1.299 0) skewX(-13.5) scale(1.3008 0.9200)" fill="none" stroke="#000" stroke-width="1.7" stroke-linecap="round" stroke-linejoin="round" vector-effect="non-scaling-stroke"/></g>
<g font-family="Liberation Sans, sans-serif">
<text x="306" y="672" font-size="120" textLength="295" lengthAdjust="spacingAndGlyphs" fill="#fff" fill-opacity="0.62" stroke="#cfcfcf" stroke-width="0.8">Александр</text>
<line x1="306" y1="674.5" x2="600" y2="674.5" stroke="#ddd" stroke-width="1"/>
<text x="309" y="694.5" font-size="21" textLength="271" lengthAdjust="spacingAndGlyphs" fill="#fff" fill-opacity="0.62" stroke="#cfcfcf" stroke-width="0.8">НЕДВИЖИМОСТЬ</text>
</g>
</svg>
</body></html>
